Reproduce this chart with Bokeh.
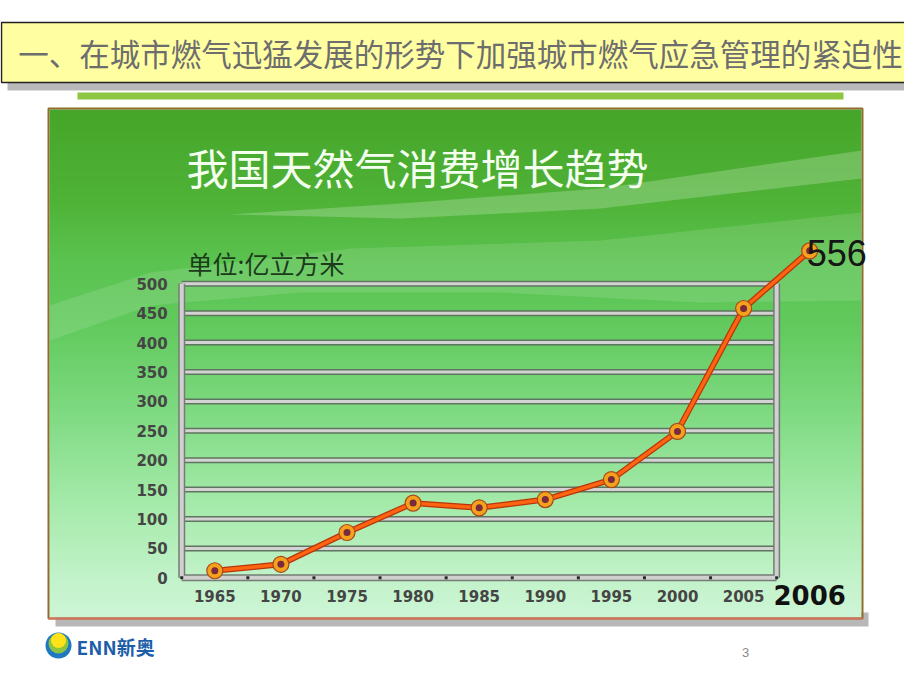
import numpy as np
from bokeh.plotting import figure
from bokeh.models import LinearAxis, FixedTicker, Range1d
from bokeh.core.properties import value
from bokeh.embed import file_html
from bokeh.resources import INLINE

# ---------------- data ----------------
years = ["1965", "1970", "1975", "1980", "1985", "1990", "1995", "2000", "2005", "2006"]
consumption = [12, 23, 77, 127, 119, 133, 167, 249, 458, 556]
y_ticks = [0, 50, 100, 150, 200, 250, 300, 350, 400, 450, 500]
slide_title = "一、在城市燃气迅猛发展的形势下加强城市燃气应急管理的紧迫性"
chart_title = "我国天然气消费增长趋势"
unit_label = "单位:亿立方米"
logo_text = "ENN新奥"
page_no = "3"

# ---------------- layout helpers (picture pixels -> data) ----------------
W, H = 904, 674
OX, OY = 0, 0
X0_PX, DX_PX = 214.3, 66.1
Y0_PX, DY_PX = 577.3, 0.588


def gx(px):
    return (px - X0_PX) / DX_PX


def gy(py):
    return (Y0_PX - py) / DY_PX


p = figure(width=W, height=H, output_backend="svg", toolbar_location=None,
           x_range=Range1d(gx(OX), gx(OX + W)), y_range=Range1d(gy(OY + H), gy(OY)),
           x_axis_location=None, y_axis_location=None, min_border=0, title=None)
p.grid.visible = False
p.outline_line_color = None
p.background_fill_color = "white"
p.border_fill_color = "white"

# ---------------- slide header ----------------
p.quad(left=[gx(7)], right=[gx(922)], top=[gy(28)], bottom=[gy(90)],
       fill_color="#b9b9b9", line_color=None)
p.quad(left=[gx(1)], right=[gx(918)], top=[gy(22)], bottom=[gy(82)],
       fill_color="#ffffa2", line_color="#222222", line_width=1.5)
p.text(x=[gx(460)], y=[gy(52)], text=[slide_title], text_align="center",
       text_baseline="middle", text_font=value("Noto Sans CJK SC"),
       text_font_size="30.5px", text_color="#6d6d6d")
p.quad(left=[gx(77)], right=[gx(843)], top=[gy(92)], bottom=[gy(99)],
       fill_color="#8dc63f", line_color=None)

# ---------------- chart picture background ----------------
p.quad(left=[gx(55)], right=[gx(868)], top=[gy(612)], bottom=[gy(626)],
       fill_color="#b8b8b8", line_color=None)
stops_py = [109, 200, 260, 330, 420, 500, 580, 617]
stops_col = ["#46a62a", "#4fb337", "#5bc350", "#63cb5f", "#82dc86", "#a4eaa9", "#c3f3ca", "#cdf6d6"]
N = 256
rows_py = np.linspace(617, 109, N)  # bottom row first
rgb = np.array([[int(c[i:i + 2], 16) for i in (1, 3, 5)] for c in stops_col], dtype=float)
img = np.zeros((N, 1), dtype=np.uint32)
view = img.view(dtype=np.uint8).reshape((N, 1, 4))
for k in range(3):
    view[:, 0, k] = np.interp(rows_py, stops_py, rgb[:, k]).astype(np.uint8)
view[:, 0, 3] = 255
p.image_rgba(image=[img], x=gx(49), y=gy(617), dw=gx(861) - gx(49), dh=gy(109) - gy(617))

# light swooshes
sw1 = [(230, 214), (400, 203), (600, 188), (861, 150), (861, 178), (600, 208), (400, 218)]
sw2 = [(49, 305), (150, 272), (350, 248), (600, 240), (861, 212), (861, 300), (700, 302),
       (500, 292), (300, 292), (150, 305), (49, 340)]
for pts, a in ((sw1, 0.22), (sw2, 0.12)):
    p.patch(x=[gx(a_[0]) for a_ in pts], y=[gy(a_[1]) for a_ in pts],
            fill_color="white", fill_alpha=a, line_color=None)

p.quad(left=[gx(48)], right=[gx(862)], top=[gy(108)], bottom=[gy(618)],
       fill_color=None, line_color="#8d6d2c", line_width=2)
p.segment(x0=[gx(48)], x1=[gx(862)], y0=[gy(618)], y1=[gy(618)],
          line_color="#d9725a", line_width=2)

p.text(x=[gx(186)], y=[gy(166)], text=[chart_title], text_align="left",
       text_baseline="middle", text_font=value("Noto Sans CJK SC"),
       text_font_size="42px", text_color="#f4fff0")
p.text(x=[gx(187)], y=[gy(262)], text=[unit_label], text_align="left",
       text_baseline="middle", text_font=value("Noto Sans CJK SC"),
       text_font_size="25px", text_color="#1c3a1c")

# ---------------- chart frame ----------------
n_cat = len(years) - 1
x_lo, x_hi = -0.5, n_cat - 0.5
grid_y = y_ticks[1:]
p.segment(x0=[x_lo] * len(grid_y), x1=[x_hi] * len(grid_y), y0=grid_y, y1=grid_y,
          line_color="#5f755f", line_width=6)
p.segment(x0=[x_lo] * len(grid_y), x1=[x_hi] * len(grid_y), y0=grid_y, y1=grid_y,
          line_color="#d3d3d3", line_width=3)
p.segment(x0=[x_lo, x_hi, x_lo], x1=[x_lo, x_hi, x_hi], y0=[0, 0, 0],
          y1=[y_ticks[-1], y_ticks[-1], 0], line_color="#737d73", line_width=7)
p.segment(x0=[x_lo, x_hi, x_lo], x1=[x_lo, x_hi, x_hi], y0=[0, 0, 0],
          y1=[y_ticks[-1], y_ticks[-1], 0], line_color="#d0d0d0", line_width=4)
p.scatter(x=[i - 0.5 for i in range(n_cat + 1)], y=[0] * (n_cat + 1), marker="square",
          size=3, fill_color="#2a2a2a", line_color=None)

# ---------------- series ----------------
xs = list(range(len(years)))
p.line(xs, consumption, line_color="#b8360c", line_width=6)
p.line(xs, consumption, line_color="#ff6410", line_width=3.5)
p.scatter(xs, consumption, size=16, fill_color="#f5a11c", line_color="#a9481a", line_width=1.2)
p.scatter(xs, consumption, size=7, fill_color="#7a2a3c", line_color=None)

p.text(x=[xs[-1]], y=[consumption[-1]], text=[str(consumption[-1])], text_align="left",
       text_baseline="alphabetic", y_offset=2, x_offset=-3, text_font=value("Liberation Sans"),
       text_font_size="36px", text_color="#151515")

# ---------------- axes ----------------
yax = LinearAxis(fixed_location=x_lo, ticker=FixedTicker(ticks=y_ticks))
yax.axis_line_color = None
yax.major_tick_line_color = None
yax.minor_tick_line_color = None
yax.major_label_standoff = 8
yax.major_label_text_font = "DejaVu Sans"
yax.major_label_text_font_style = "bold"
yax.major_label_text_font_size = "15px"
yax.major_label_text_color = "#454545"
p.add_layout(yax, "left")

xax = LinearAxis(fixed_location=0, ticker=FixedTicker(ticks=xs[:-1]),
                 major_label_overrides={i: years[i] for i in xs[:-1]})
xax.axis_line_color = None
xax.major_tick_line_color = None
xax.minor_tick_line_color = None
xax.major_label_standoff = 6
xax.major_label_text_font = "DejaVu Sans"
xax.major_label_text_font_style = "bold"
xax.major_label_text_font_size = "15px"
xax.major_label_text_color = "#454545"
p.add_layout(xax, "below")

p.text(x=[xs[-1]], y=[gy(594)], text=[years[-1]], text_align="center",
       text_baseline="middle", text_font=value("DejaVu Sans"), text_font_style="bold",
       text_font_size="26px", text_color="#111111")

# ---------------- footer ----------------
p.scatter(x=[gx(58)], y=[gy(645)], size=26, fill_color="#1e78c2", line_color=None)
p.scatter(x=[gx(58)], y=[gy(643)], size=20, fill_color="#8cc63f", line_color=None)
p.scatter(x=[gx(58)], y=[gy(640)], size=15, fill_color="#ffe21a", line_color=None)
p.text(x=[gx(76)], y=[gy(646)], text=[logo_text], text_align="left", text_baseline="middle",
       text_font=value("Noto Sans CJK SC"), text_font_style="bold", text_font_size="19px",
       text_color="#1c5ea8")
p.text(x=[gx(745)], y=[gy(652)], text=[page_no], text_align="center", text_baseline="middle",
       text_font=value("Liberation Sans"), text_font_size="13px", text_color="#8a8a8a")

open("out.html", "w").write(file_html(p, INLINE))
